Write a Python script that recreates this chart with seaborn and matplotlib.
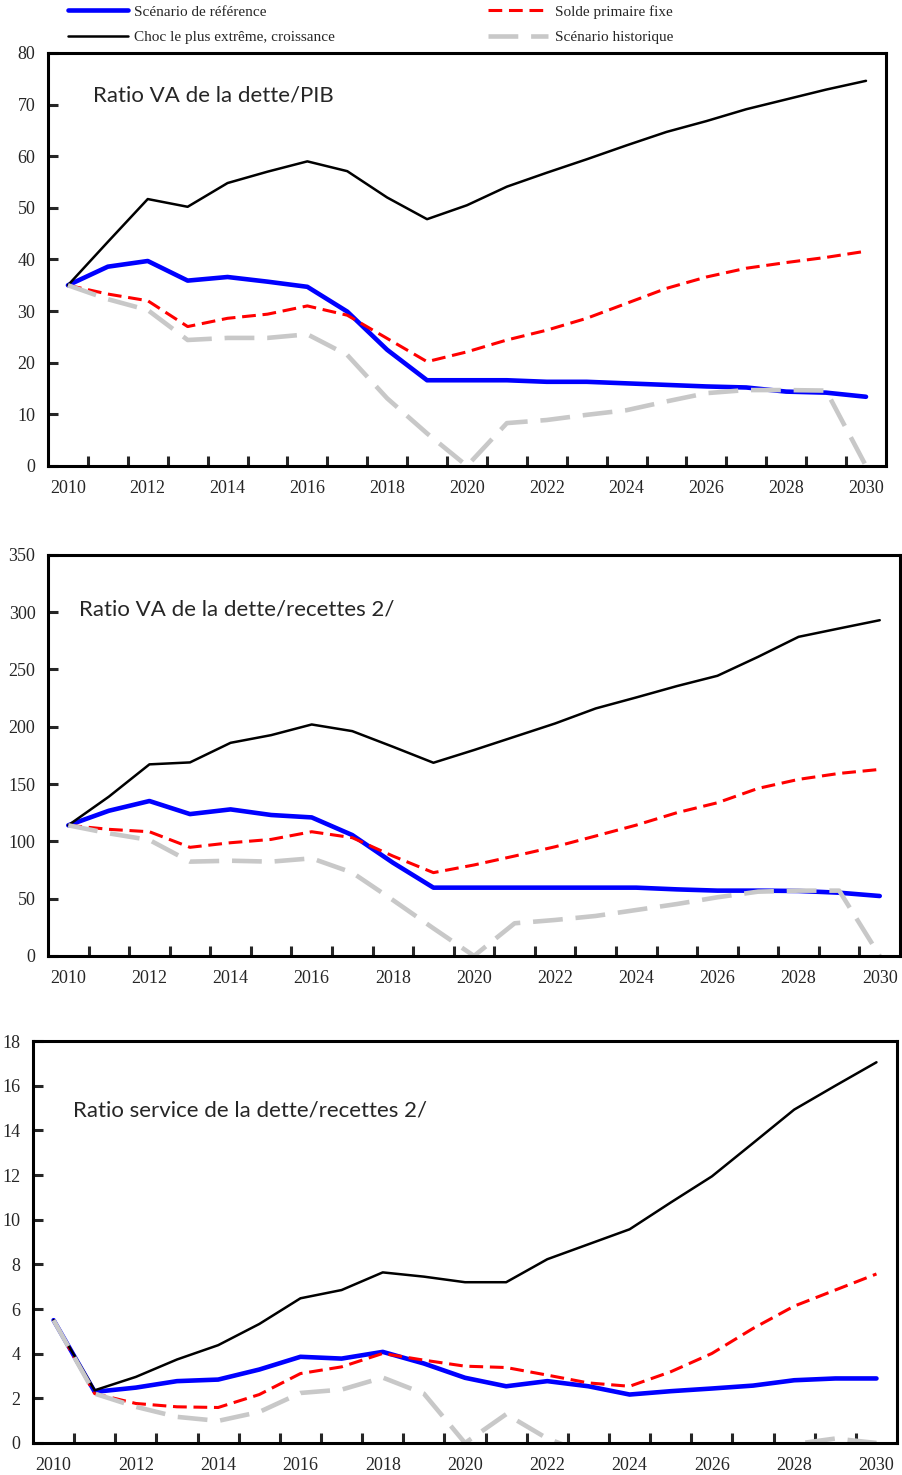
import numpy as np
import pandas as pd
import seaborn as sns
import matplotlib.pyplot as plt
from matplotlib.lines import Line2D
from matplotlib.ticker import FixedLocator

sns.set_style("white")
plt.rcParams["font.family"] = ["Liberation Serif", "DejaVu Serif"]

years = list(range(2010, 2031))

# scenario names
BASE = "Scénario de référence"
FIXED = "Solde primaire fixe"
SHOCK = "Choc le plus extrême, croissance"
HIST = "Scénario historique"

# Ratio VA de la dette/PIB
pib_base = [35.0, 38.6, 39.7, 35.9, 36.6, 35.7, 34.7, 29.9, 22.5, 16.6, 16.6,
            16.6, 16.3, 16.3, 16.0, 15.7, 15.4, 15.2, 14.4, 14.2, 13.4]
pib_fixed = [35.0, 33.3, 32.0, 27.0, 28.6, 29.4, 31.0, 29.2, 24.7, 20.2, 22.1,
             24.4, 26.3, 28.6, 31.5, 34.4, 36.6, 38.3, 39.4, 40.4, 41.6]
pib_shock = [35.0, 43.4, 51.7, 50.2, 54.8, 57.0, 59.0, 57.1, 52.0, 47.8, 50.5,
             54.1, 56.8, 59.4, 62.1, 64.7, 66.8, 69.1, 71.0, 72.9, 74.6]
pib_hist = [35.0, 32.3, 30.2, 24.4, 24.8, 24.8, 25.5, 21.5, 13.1, 6.3, 0.0,
            8.3, 8.9, 9.9, 10.8, 12.5, 14.1, 14.7, 14.7, 14.6, 0.0]

# Ratio VA de la dette/recettes
rec_base = [114.0, 126.7, 135.2, 123.8, 127.9, 123.0, 120.9, 105.5, 81.4, 59.6, 59.6,
            59.6, 59.6, 59.6, 59.6, 58.1, 57.0, 57.0, 56.7, 55.2, 52.3]
rec_fixed = [114.0, 110.5, 108.4, 94.8, 98.8, 101.7, 108.4, 103.2, 87.2, 72.7, 79.4,
             87.2, 95.3, 104.7, 114.2, 125.0, 133.7, 146.2, 154.1, 159.3, 162.8]
rec_shock = [114.0, 139.0, 167.2, 168.9, 186.0, 192.7, 202.0, 196.2, 182.6, 168.6, 179.7,
             191.3, 202.9, 216.0, 225.6, 235.5, 244.5, 261.0, 278.5, 285.8, 293.0]
rec_hist = [114.0, 107.0, 101.2, 82.3, 83.1, 82.3, 85.2, 72.7, 48.8, 24.1, 0.0,
            28.5, 31.4, 34.9, 40.1, 45.3, 51.2, 56.1, 57.0, 57.0, 0.0]

# Ratio service de la dette/recettes
svc_base = [5.5, 2.29, 2.48, 2.77, 2.84, 3.29, 3.86, 3.78, 4.08, 3.56, 2.92,
            2.54, 2.77, 2.54, 2.17, 2.32, 2.44, 2.57, 2.81, 2.89, 2.89]
svc_fixed = [5.5, 2.21, 1.77, 1.62, 1.59, 2.17, 3.11, 3.41, 4.01, 3.71, 3.44,
             3.38, 3.04, 2.69, 2.54, 3.19, 4.01, 5.13, 6.13, 6.85, 7.57]
svc_shock = [5.5, 2.36, 2.96, 3.74, 4.38, 5.33, 6.48, 6.85, 7.64, 7.45, 7.2,
             7.2, 8.23, 8.9, 9.57, 10.77, 11.94, 13.43, 14.93, 16.0, 17.05]
svc_hist = [5.5, 2.21, 1.62, 1.17, 0.99, 1.39, 2.24, 2.39, 2.93, 2.21, 0.0,
            1.29, 0.2, -0.5, -0.8, -0.8, -0.7, -0.6, -0.05, 0.2, 0.0]

order = [BASE, FIXED, SHOCK, HIST]
palette = {BASE: "#0000FF", FIXED: "#FF0000", SHOCK: "#000000", HIST: "#C8C8C8"}
dashes = {BASE: "", FIXED: (4.5, 2.2), SHOCK: "", HIST: (6.5, 2.8)}
sizes = {BASE: 3.3, FIXED: 2.2, SHOCK: 1.8, HIST: 3.3}

fig = plt.figure(figsize=(9.02, 14.75), dpi=100)
ax1 = fig.add_axes([0.0532, 0.6841, 0.9290, 0.2800])
ax2 = fig.add_axes([0.0532, 0.3519, 0.9446, 0.2719])
ax3 = fig.add_axes([0.0366, 0.0217, 0.9579, 0.2725])


def draw_panel(ax, values, ymax, ystep, title, tx, ty):
    df = pd.DataFrame({"year": years * 4,
                       "scenario": sum([[name] * len(years) for name in order], []),
                       "value": sum([values[name] for name in order], [])})
    sns.lineplot(data=df, x="year", y="value", hue="scenario", style="scenario",
                 size="scenario", hue_order=order, style_order=order, size_order=order,
                 palette=palette, dashes=dashes, sizes=sizes, errorbar=None,
                 legend=False, ax=ax)
    ax.set_xlim(2009.5, 2030.5)
    ax.set_ylim(0, ymax)
    ax.set_xlabel("")
    ax.set_ylabel("")
    ax.set_yticks(np.arange(0, ymax + 0.1, ystep))
    ax.set_xticks(list(range(2010, 2031, 2)))
    ax.xaxis.set_minor_locator(FixedLocator(np.arange(2010.5, 2030, 1)))
    ax.tick_params(axis="x", which="major", length=0, pad=10, labelsize=13)
    ax.tick_params(axis="x", which="minor", direction="in", length=7, width=2.2,
                   bottom=True)
    ax.tick_params(axis="y", direction="in", length=7, width=2.2, pad=9,
                   labelsize=13, left=True)
    for sp in ax.spines.values():
        sp.set_linewidth(2.2)
        sp.set_color("black")
    ax.text(tx, ty, title, transform=ax.transAxes, fontsize=16,
            family="Lato", va="center", ha="left")


draw_panel(ax1, {BASE: pib_base, FIXED: pib_fixed, SHOCK: pib_shock, HIST: pib_hist},
           80, 10, "Ratio VA de la dette/PIB", 0.0537, 0.898)
draw_panel(ax2, {BASE: rec_base, FIXED: rec_fixed, SHOCK: rec_shock, HIST: rec_hist},
           350, 50, "Ratio VA de la dette/recettes 2/", 0.0364, 0.865)
draw_panel(ax3, {BASE: svc_base, FIXED: svc_fixed, SHOCK: svc_shock, HIST: svc_hist},
           18, 2, "Ratio service de la dette/recettes 2/", 0.0463, 0.828)

# legend: column 1 = base, shock ; column 2 = fixed, historique
leg_order = [BASE, SHOCK, FIXED, HIST]
handles = [Line2D([], [], color=palette[n], lw=sizes[n],
                  dashes=dashes[n] if dashes[n] else (None, None))
           for n in leg_order]
fig.legend(handles, leg_order, ncol=2, loc="upper left",
           bbox_to_anchor=(68 / 902, 1.0 - 5 / 1475), frameon=False,
           fontsize=11, handlelength=3.9, handletextpad=0.45,
           columnspacing=10.0, labelspacing=0.78, borderpad=0, borderaxespad=0)

fig.savefig("out.png", dpi=100)
